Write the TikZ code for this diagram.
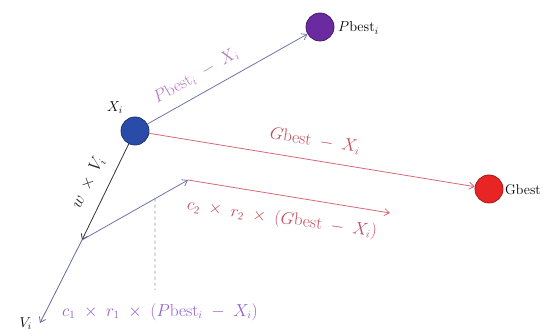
\documentclass[tikz,border=0pt]{standalone}
\usetikzlibrary{arrows.meta,calc}
\definecolor{xiblue}{HTML}{2A4BA8}
\definecolor{pbpurple}{HTML}{6A2AA0}
\definecolor{gbred}{HTML}{E82424}
\definecolor{lineblue}{HTML}{7272B0}
\definecolor{labpink}{HTML}{B878C4}
\definecolor{linered}{HTML}{D86878}
\definecolor{textred}{HTML}{C44A5C}
\tikzset{
  dot/.style={circle, draw=#1!70!black, fill=#1, line width=0.8pt, minimum size=28pt, inner sep=0pt},
  vec/.style={-{Straight Barb[length=5pt,width=7pt]}, line width=0.8pt},
  lab/.style={font=\fontsize{14}{16}\selectfont, inner sep=1pt},
  biglab/.style={font=\fontsize{16}{18}\selectfont, inner sep=1pt},
}
\begin{document}
\begin{tikzpicture}[x=1pt,y=-1pt]
\useasboundingbox (0,0) rectangle (557,336);
\node[dot=xiblue] (xi) at (135,131) {};
\node[dot=pbpurple] (pb) at (320,27) {};
\node[dot=gbred] (gb) at (489,189) {};
\coordinate (a) at (82,240);
\coordinate (b) at (188,180);
\coordinate (c) at (390,213);
\coordinate (vi) at (40,323);
\coordinate (d1) at ($(a)!0.689!(b)$);
\coordinate (d2) at (155,290);
% arrows
\draw[vec, lineblue] (xi) -- (pb);
\draw[vec, linered] (xi) -- (gb);
\draw[vec, black!80] (xi) -- (a);
\draw[vec, lineblue!90!black] (a) -- (vi);
\draw[vec, lineblue] (a) -- (b);
\draw[vec, linered] (b) -- (c);
\draw[dashed, lineblue!80, line width=0.7pt] (d1) -- (d2);
% labels
\node[lab, anchor=east] (xil) at (124,108) {$X_i$};
\node[lab, anchor=west] (pbl) at (337,28) {$P\mathrm{best}_i$};
\node[lab, anchor=west] (gbl) at (504,190) {Gbest};
\node[lab, anchor=east] (vil) at (33,324) {$V_i$};
\node[biglab, labpink, rotate=30] (l1) at (196,76) {$P\mathrm{best}_i\;-\;X_i$};
\node[biglab, textred, rotate=-9] (l2) at (315,141) {$G\mathrm{best}\;-\;X_i$};
\node[biglab, black!85, rotate=64] (l3) at (88,183) {$w\:\times\:V_i$};
\node[biglab, textred, rotate=-8] (l4) at (282,219) {$c_2\;\times\;r_2\;\times\;(G\mathrm{best}\;-\;X_i)$};
\node[biglab, labpink!80!blue] (l5) at (160,312) {$c_1\;\times\;r_1\;\times\;(P\mathrm{best}_i\;-\;X_i)$};
\end{tikzpicture}
\end{document}
